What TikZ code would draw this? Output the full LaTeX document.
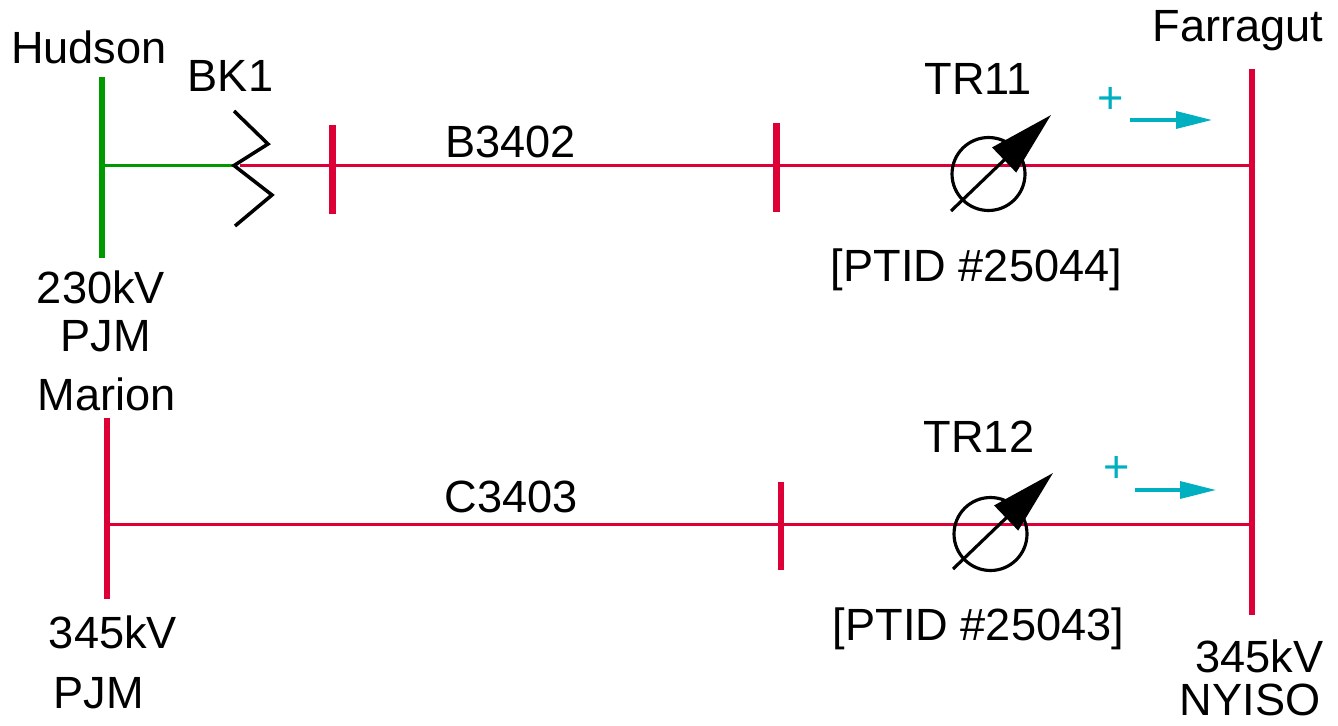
\documentclass[tikz,border=0pt]{standalone}
\usepackage{xcolor}
\usepackage{fontspec}
\setmainfont{Liberation Sans}
\usetikzlibrary{arrows.meta}
\definecolor{busred}{HTML}{DC0037}
\definecolor{busgreen}{HTML}{009900}
\definecolor{flowcyan}{HTML}{00B0C0}

\begin{document}
\begin{tikzpicture}[x=0.02cm, y=-0.02cm]
		\tikzstyle{txt} = [draw=none, font=\fontsize{25.7}{30}\selectfont, anchor=base, inner sep=0pt]
		\tikzstyle{plus} = [txt, text=flowcyan]
		\tikzstyle{bus} = [line width=3.5pt]
		\tikzstyle{feeder} = [line width=2pt]
		\tikzstyle{pst} = [draw=black, circle, line width=1.8pt, minimum size=1.46cm, inner sep=0pt]
		\tikzstyle{needle} = [line width=1.8pt, -{Triangle[length=1.3cm, width=0.68cm]}]
		\tikzstyle{flow} = [line width=1.9pt, flowcyan, -{Triangle[length=0.72cm, width=0.34cm]}]
		
		\useasboundingbox (0, 0) rectangle (1338, 726);
		
		% buses and line ends
		\coordinate	(hudsonT)	at (102, 77);
		\coordinate	(hudsonB)	at (102, 258);
		\coordinate	(hudsonL)	at (102, 165.5);
		\coordinate	(marionT)	at (107, 418);
		\coordinate	(marionB)	at (107, 599);
		\coordinate	(marionL)	at (107, 524.5);
		\coordinate	(farragutT)	at (1252, 69);
		\coordinate	(farragutB)	at (1252, 615);
		\coordinate	(farragutU)	at (1252, 165.5);
		\coordinate	(farragutD)	at (1252, 524.5);
		
		% breaker
		\coordinate	(bk1a)	at (234, 111);
		\coordinate	(bk1b)	at (268, 144);
		\coordinate	(bk1c)	at (234, 165.5);
		\coordinate	(bk1d)	at (272, 195);
		\coordinate	(bk1e)	at (235, 226);
		\coordinate	(bk1r)	at (240, 165.5);
		
		% ticks on the lines
		\coordinate	(tickAt)	at (332.5, 125);
		\coordinate	(tickAb)	at (332.5, 214);
		\coordinate	(tickBt)	at (776.5, 123);
		\coordinate	(tickBb)	at (776.5, 212);
		\coordinate	(tickCt)	at (781, 482);
		\coordinate	(tickCb)	at (781, 570);
		
		% lines first, symbols on top
		\draw[feeder, busgreen]	(hudsonL) -- (bk1c);
		\draw[feeder, busred]	(bk1r) -- (farragutU);
		\draw[feeder, busred]	(marionL) -- (farragutD);
		
		\draw[bus, busgreen]	(hudsonT) -- (hudsonB);
		\draw[bus, busred]	(marionT) -- (marionB);
		\draw[bus, busred]	(farragutT) -- (farragutB);
		\draw[bus, busred]	(tickAt) -- (tickAb);
		\draw[bus, busred]	(tickBt) -- (tickBb);
		\draw[bus, busred]	(tickCt) -- (tickCb);
		
		\draw[feeder, black, miter limit=4]	(bk1a) -- (bk1b) -- (bk1c) -- (bk1d) -- (bk1e);
		
		% phase shifters
		\node[pst] 	at (988.5, 174)	(tr11) 	{};
		\node[pst] 	at (990.5, 534)	(tr12) 	{};
		\coordinate	(tr11a)	at (951, 211);
		\coordinate	(tr11b)	at (1051, 115);
		\coordinate	(tr12a)	at (953, 569);
		\coordinate	(tr12b)	at (1053, 473);
		\draw[needle]	(tr11a) -- (tr11b);
		\draw[needle]	(tr12a) -- (tr12b);
		
		% flow direction
		\coordinate	(flowAa)	at (1130, 120);
		\coordinate	(flowAb)	at (1212, 120);
		\coordinate	(flowBa)	at (1135, 490);
		\coordinate	(flowBb)	at (1216, 490);
		\draw[flow]	(flowAa) -- (flowAb);
		\draw[flow]	(flowBa) -- (flowBb);
		\node[plus] 	at (1110.5, 114)	(plusA) 	{+};
		\node[plus] 	at (1117, 482.5)	(plusB) 	{+};
		
		% labels
		\node[txt] 	at (89, 64)	(hudson) 	{Hudson};
		\node[txt] 	at (230.5, 92)	(bk1) 	{BK1};
		\node[txt] 	at (101, 303)	(kvA) 	{230kV};
		\node[txt] 	at (105.5, 351)	(pjmA) 	{PJM};
		\node[txt] 	at (106.5, 410)	(marion) 	{Marion};
		\node[txt] 	at (510.5, 158)	(b3402) 	{B3402};
		\node[txt] 	at (978, 95)	(tr11t) 	{TR11};
		\node[txt] 	at (976.5, 281)	(ptidA) 	{[PTID \#25044]};
		\node[txt] 	at (1238, 42)	(farragut) 	{Farragut};
		\node[txt] 	at (511.5, 512)	(c3403) 	{C3403};
		\node[txt] 	at (979, 452)	(tr12t) 	{TR12};
		\node[txt] 	at (978.5, 640)	(ptidB) 	{[PTID \#25043]};
		\node[txt] 	at (113, 648)	(kvB) 	{345kV};
		\node[txt] 	at (98.5, 708)	(pjmB) 	{PJM};
		\node[txt] 	at (1259.5, 672)	(kvC) 	{345kV};
		\node[txt] 	at (1250, 715.5)	(nyiso) 	{NYISO};
\end{tikzpicture}
\end{document}
